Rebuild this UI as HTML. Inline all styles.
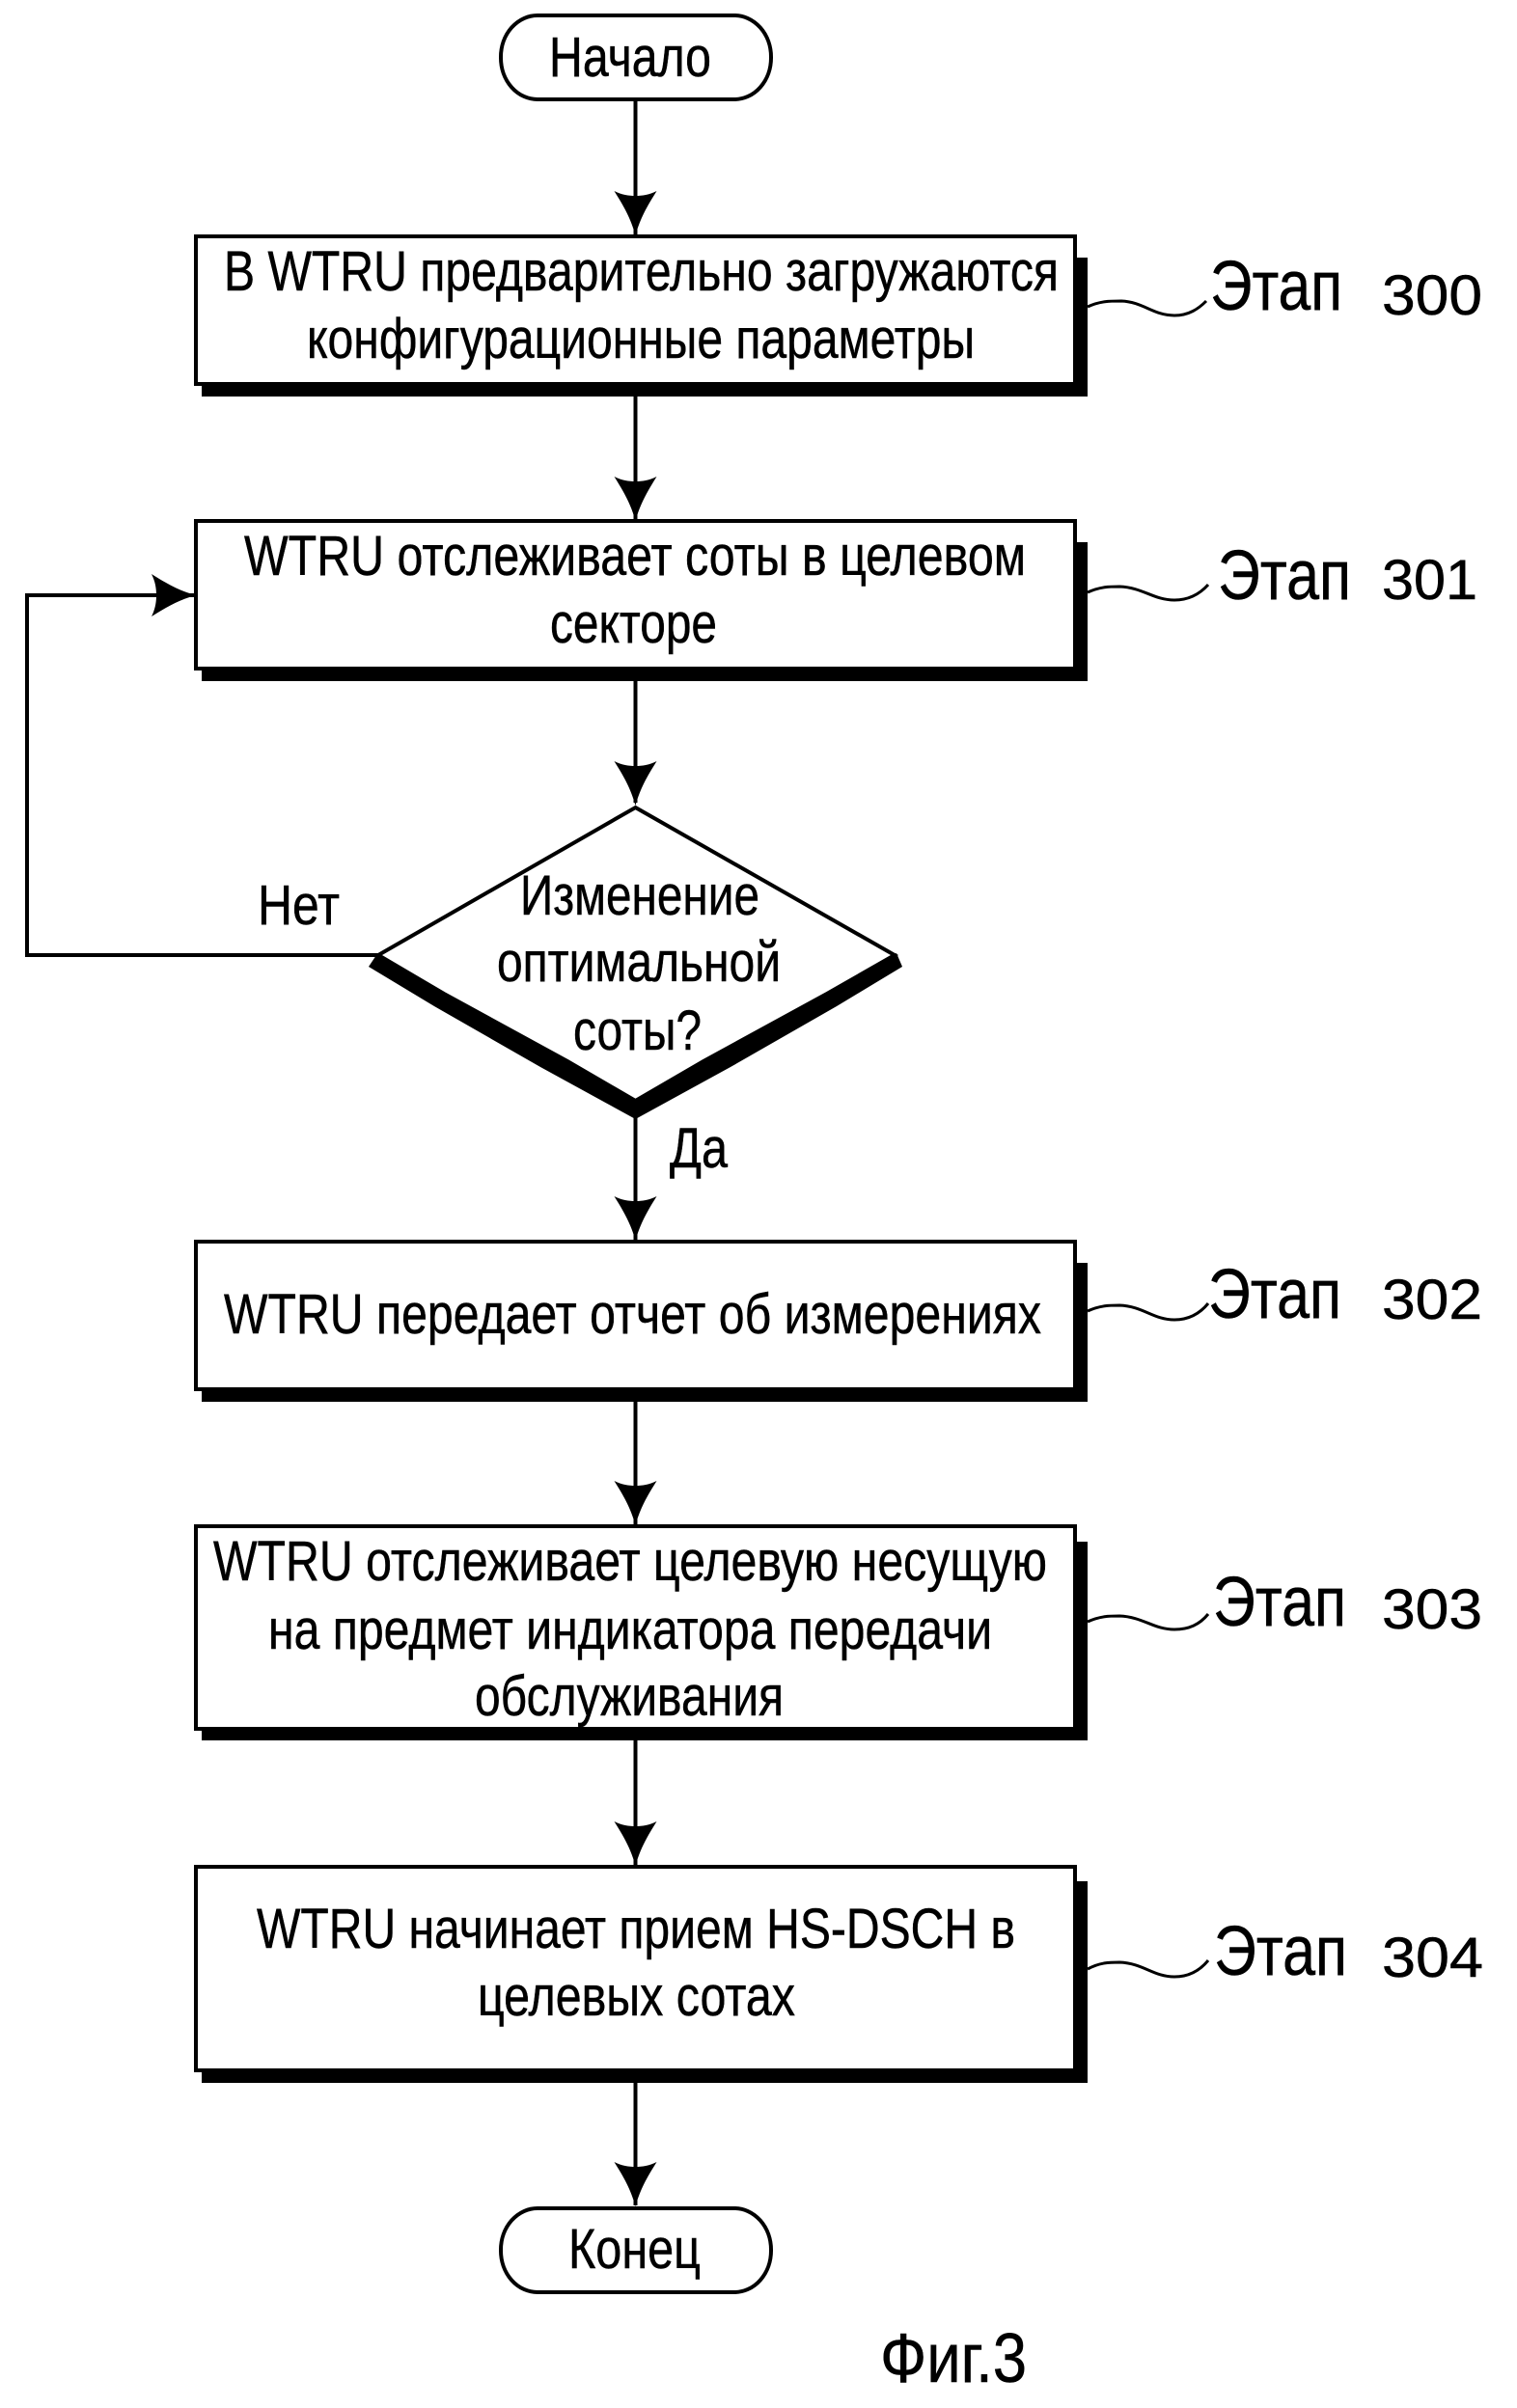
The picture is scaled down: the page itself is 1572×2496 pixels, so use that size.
<!DOCTYPE html>
<html>
<head>
<meta charset="utf-8">
<style>
html,body{margin:0;padding:0;background:#fff}
svg{display:block}
text{font-family:"Liberation Sans",sans-serif;fill:#000;stroke:#000;stroke-width:.5px}
.t{font-size:58px}
.e{font-size:72px}
.n{font-size:58px}
</style>
</head>
<body>
<svg width="1572" height="2496" viewBox="0 0 1572 2496" xmlns="http://www.w3.org/2000/svg">
<defs>
<path id="ah" d="M-22 -46 C-14 -42 -7 -41 0 -41 C7 -41 14 -42 22 -46 C12 -30 5 -18 0 0 C-5 -18 -12 -30 -22 -46Z" fill="#000"/>
</defs>
<rect width="1572" height="2496" fill="#fff"/>

<!-- connectors -->
<g stroke="#000" stroke-width="4" fill="none">
<path d="M658.5 103V244"/>
<path d="M658.5 400V540"/>
<path d="M658.5 695V832"/>
<path d="M658.5 1155V1286"/>
<path d="M658.5 1445V1581"/>
<path d="M658.5 1795V1933"/>
<path d="M658.5 2150V2286"/>
<path d="M392 990H28V617H202"/>
</g>
<use href="#ah" x="658.5" y="244"/>
<use href="#ah" x="658.5" y="540"/>
<use href="#ah" x="658.5" y="835"/>
<use href="#ah" x="658.5" y="1286"/>
<use href="#ah" x="658.5" y="1581"/>
<use href="#ah" x="658.5" y="1934"/>
<use href="#ah" x="658.5" y="2287"/>
<use href="#ah" transform="translate(203 617) rotate(-90)"/>

<!-- terminators -->
<rect x="519" y="16" width="280" height="87" rx="38" ry="43" fill="#fff" stroke="#000" stroke-width="4"/>
<rect x="519" y="2289" width="280" height="87" rx="38" ry="43" fill="#fff" stroke="#000" stroke-width="4"/>

<!-- boxes: shadow + frame -->
<g>
<rect x="209" y="267" width="918" height="144" fill="#000"/>
<rect x="203" y="245" width="911" height="153" fill="#fff" stroke="#000" stroke-width="4"/>
<rect x="209" y="562" width="918" height="144" fill="#000"/>
<rect x="203" y="540" width="911" height="153" fill="#fff" stroke="#000" stroke-width="4"/>
<rect x="209" y="1309" width="918" height="144" fill="#000"/>
<rect x="203" y="1287" width="911" height="153" fill="#fff" stroke="#000" stroke-width="4"/>
<rect x="209" y="1598" width="918" height="206" fill="#000"/>
<rect x="203" y="1582" width="911" height="210" fill="#fff" stroke="#000" stroke-width="4"/>
<rect x="209" y="1950" width="918" height="209" fill="#000"/>
<rect x="203" y="1935" width="911" height="211" fill="#fff" stroke="#000" stroke-width="4"/>
</g>

<!-- decision -->
<polygon points="390,990 382,1002 450,1043 560,1106 658.5,1160 757,1106 867,1043 935,1002 929,988 658.5,1100" fill="#000"/>
<polygon points="658.5,837 927,990 857,1030 729,1100 658.5,1141 588,1100 460,1030 392,990" fill="#fff" stroke="#000" stroke-width="4"/>

<!-- step squiggles -->
<g stroke="#000" stroke-width="3" fill="none">
<path d="M1127 318C1140 312 1150 312 1162 312C1185 313 1195 327 1217 327C1232 327 1242 320 1250 312"/>
<path d="M1127 614C1140 608 1150 608 1160 608C1185 609 1195 622 1217 622C1232 622 1243 616 1252 606"/>
<path d="M1127 1359C1140 1353 1150 1353 1160 1353C1185 1354 1195 1368 1217 1368C1232 1368 1243 1362 1252 1351"/>
<path d="M1127 1681C1140 1675 1150 1675 1160 1675C1185 1676 1195 1689 1217 1689C1232 1689 1243 1684 1252 1673"/>
<path d="M1127 2041C1140 2034 1150 2034 1160 2034C1185 2035 1195 2049 1217 2049C1232 2049 1243 2043 1252 2032"/>
</g>

<!-- labels -->
<g>
<text class="t" x="569" y="79" textLength="168" lengthAdjust="spacingAndGlyphs">Начало</text>
<text class="t" x="232" y="301" textLength="865" lengthAdjust="spacingAndGlyphs">В WTRU предварительно загружаются</text>
<text class="t" x="318" y="371" textLength="692" lengthAdjust="spacingAndGlyphs">конфигурационные параметры</text>
<text class="t" x="253" y="596" textLength="810" lengthAdjust="spacingAndGlyphs">WTRU отслеживает соты в целевом</text>
<text class="t" x="570" y="666" textLength="173" lengthAdjust="spacingAndGlyphs">секторе</text>
<text class="t" x="539" y="948" textLength="248" lengthAdjust="spacingAndGlyphs">Изменение</text>
<text class="t" x="515" y="1017" textLength="294" lengthAdjust="spacingAndGlyphs">оптимальной</text>
<text class="t" x="594" y="1088" textLength="133" lengthAdjust="spacingAndGlyphs">соты?</text>
<text class="t" x="267" y="958" textLength="85" lengthAdjust="spacingAndGlyphs">Нет</text>
<text class="t" x="694" y="1210" textLength="60" lengthAdjust="spacingAndGlyphs">Да</text>
<text class="t" x="232" y="1382" textLength="847" lengthAdjust="spacingAndGlyphs">WTRU передает отчет об измерениях</text>
<text class="t" x="221" y="1638" textLength="864" lengthAdjust="spacingAndGlyphs">WTRU отслеживает целевую несущую</text>
<text class="t" x="278" y="1709" textLength="750" lengthAdjust="spacingAndGlyphs">на предмет индикатора передачи</text>
<text class="t" x="492" y="1778" textLength="320" lengthAdjust="spacingAndGlyphs">обслуживания</text>
<text class="t" x="266" y="2019" textLength="786" lengthAdjust="spacingAndGlyphs">WTRU начинает прием HS-DSCH в</text>
<text class="t" x="495" y="2089" textLength="329" lengthAdjust="spacingAndGlyphs">целевых сотах</text>
<text class="t" x="589" y="2351" textLength="137" lengthAdjust="spacingAndGlyphs">Конец</text>
</g>

<text class="e" x="1254" y="321" textLength="137" lengthAdjust="spacingAndGlyphs">Этап</text>
<text class="n" x="1432" y="326" textLength="104" lengthAdjust="spacingAndGlyphs">300</text>
<text class="e" x="1262" y="621" textLength="138" lengthAdjust="spacingAndGlyphs">Этап</text>
<text class="n" x="1432" y="621" textLength="99" lengthAdjust="spacingAndGlyphs">301</text>
<text class="e" x="1252" y="1366" textLength="138" lengthAdjust="spacingAndGlyphs">Этап</text>
<text class="n" x="1432" y="1367" textLength="104" lengthAdjust="spacingAndGlyphs">302</text>
<text class="e" x="1257" y="1685" textLength="138" lengthAdjust="spacingAndGlyphs">Этап</text>
<text class="n" x="1432" y="1688" textLength="104" lengthAdjust="spacingAndGlyphs">303</text>
<text class="e" x="1258" y="2047" textLength="138" lengthAdjust="spacingAndGlyphs">Этап</text>
<text class="n" x="1432" y="2049" textLength="105" lengthAdjust="spacingAndGlyphs">304</text>

<text x="912" y="2469" font-size="72" textLength="152" lengthAdjust="spacingAndGlyphs">Фиг.3</text>
</svg>
</body>
</html>
